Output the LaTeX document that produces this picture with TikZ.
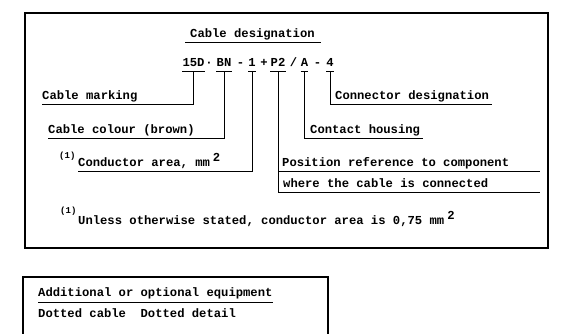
\documentclass[tikz,border=0pt]{standalone}
\usepackage{fontspec}
\setmainfont{Liberation Mono}
\begin{document}
\begin{tikzpicture}[x=1pt,y=-1pt,
  every node/.style={font=\fontsize{12.2}{14}\selectfont\bfseries},
  lab/.style={inner sep=0pt, text depth=5pt, anchor=south west},
  tok/.style={inner sep=0pt, text depth=4pt, anchor=base},
  txt/.style={inner sep=0pt, anchor=base west},
  fn/.style={inner sep=0pt, anchor=base west, font=\fontsize{9}{10}\selectfont\bfseries},
  frame/.style={line width=1.6pt},
  wire/.style={line width=1pt}]
\useasboundingbox (0,0) rectangle (563,334);
% frames
\draw[frame] (25,13) rectangle (548,248);
\draw[frame] (23,334) -- (23,277) -- (328,277) -- (328,334);
% title
\node[lab] (ldes) at (190,43) {Cable designation};
\draw[wire] ([xshift=-5pt]ldes.south west) -- ([xshift=6pt]ldes.south east);
% designation tokens
\node[tok] (t15) at (193.5,67) {15D};
\node[tok] (tdot) at (209,67) {·};
\node[tok] (tBN) at (224,67) {BN};
\node[tok] (tm1) at (240.5,67) {-};
\node[tok] (t1) at (252,67) {1};
\node[tok] (tplus) at (264,67) {+};
\node[tok] (tP2) at (278,67) {P2};
\node[tok] (tsl) at (293.5,67) {/};
\node[tok] (tA) at (304.5,67) {A};
\node[tok] (tm2) at (317.5,67) {-};
\node[tok] (t4) at (330,67) {4};
\foreach \t in {t15,tBN,t1,tP2,tA,t4}
  \draw[wire] (\t.south west) -- (\t.south east);
% left labels
\node[lab] (lmark) at (42,105) {Cable marking};
\draw[wire] (t15.south) |- (lmark.south west);
\node[lab] (lcol) at (48,139) {Cable colour (brown)};
\draw[wire] (tBN.south) |- (lcol.south west);
\node[fn] (fn1) at (59,159) {(1)};
\node[lab] (larea) at (78,172) {Conductor area, mm\kern3pt\raisebox{5pt}{2}};
\draw[wire] (t1.south) |- (larea.south west);
% right labels
\node[lab] (lconn) at (335,105) {Connector designation};
\draw[wire] (t4.south) |- ([xshift=3pt]lconn.south east);
\node[lab] (lhous) at (310,139) {Contact housing};
\draw[wire] (tA.south) |- ([xshift=3pt]lhous.south east);
\node[lab] (lpos) at (282,172) {Position reference to component};
\node[lab] (lwhere) at (283,193) {where the cable is connected};
\coordinate (pe1) at (540,172);
\coordinate (pe2) at (540,193);
\draw[wire] (tP2.south) |- (pe2);
\draw[wire] (tP2.south |- lpos.south) -- (pe1);
% footnote
\node[fn] (fn2) at (60,214) {(1)};
\node[txt] (lnote) at (78,225) {Unless otherwise stated, conductor area is 0,75 mm\kern3pt\raisebox{5pt}{2}};
% bottom box
\node[lab] (ladd) at (38,302) {Additional or optional equipment};
\draw[wire] (ladd.south west) -- (ladd.south east);
\node[txt] (ldot) at (38,317) {Dotted cable\ \ Dotted detail};
\end{tikzpicture}
\end{document}
